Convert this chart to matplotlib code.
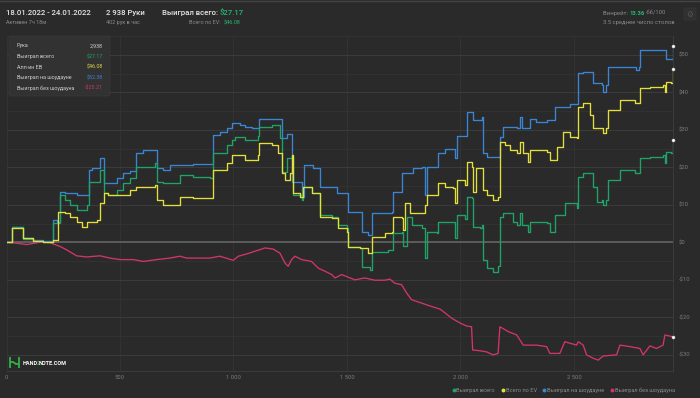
import matplotlib
matplotlib.use("Agg")
import matplotlib.pyplot as plt
from matplotlib.lines import Line2D
from matplotlib.patches import FancyBboxPatch
from matplotlib.ticker import FuncFormatter, MultipleLocator

plt.rcParams["font.family"] = ["Roboto", "DejaVu Sans"]

# --- data (hands played, cumulative $) ---
total_hands = 2938

showdown_x = [0, 23, 71, 118, 160, 203, 224, 236, 258, 309, 365, 375, 412, 430, 485, 515,
              544, 570, 600, 662, 691, 720, 823, 911, 940, 970, 992, 1029, 1051, 1080,
              1114, 1212, 1234, 1256, 1300, 1311, 1352, 1381, 1455, 1506, 1565, 1594,
              1609, 1697, 1704, 1741, 1792, 1829, 1844, 1851, 1902, 1932, 1976, 1983,
              2027, 2056, 2093, 2098, 2115, 2174, 2189, 2248, 2262, 2270, 2306, 2335,
              2380, 2416, 2482, 2519, 2541, 2585, 2622, 2629, 2640, 2651, 2769, 2775,
              2785, 2791, 2893, 2908, 2930, 2938]
showdown_y = [0, 4.2, 1.1, 0.6, 0.35, 5.9, 5.5, 13.5, 13.1, 12.6, 19.3, 19.7, 22.4, 15.7,
              17.1, 18.4, 19.1, 23.9, 24.6, 19.7, 19.3, 20.6, 21.0, 28.6, 29.5, 30.4,
              31.7, 31.3, 30.8, 30.4, 32.9, 27.7, 28.8, 16.2, 12.2, 20.6, 19.7, 14.8,
              13.1, 8.0, 2.8, 1.9, 7.7, 8.2, 13.5, 18.4, 19.7, 20.2, 12.6, 20.2, 23.7,
              25.0, 22.4, 28.3, 34.8, 32.6, 33.3, 23.7, 22.7, 28.2, 30.8, 30.4, 33.5,
              30.4, 32.8, 32.2, 32.6, 36.2, 36.8, 45.1, 45.3, 42.4, 41.9, 40.2, 42.0,
              46.8, 46.8, 45.9, 46.8, 51.3, 51.3, 48.8, 48.8, 52.38]

total_x = [0, 23, 71, 118, 160, 203, 236, 258, 280, 309, 353, 365, 412, 430, 449, 485,
           515, 544, 570, 654, 662, 691, 764, 823, 896, 911, 970, 992, 1007, 1051, 1109,
           1114, 1168, 1205, 1212, 1234, 1256, 1263, 1300, 1307, 1344, 1381, 1433, 1462,
           1499, 1506, 1557, 1565, 1601, 1609, 1682, 1704, 1741, 1748, 1763, 1785, 1829,
           1844, 1851, 1895, 1902, 1976, 1983, 2020, 2027, 2049, 2056, 2086, 2093, 2098,
           2115, 2144, 2166, 2174, 2189, 2233, 2248, 2262, 2270, 2299, 2306, 2380, 2394,
           2416, 2460, 2512, 2519, 2541, 2585, 2600, 2622, 2629, 2640, 2651, 2703, 2769,
           2791, 2835, 2893, 2901, 2908, 2930, 2938]
total_y = [0, 4.2, 0.8, 0.35, 0.2, 5.2, 12.6, 11.3, 9.9, 8.6, 9.9, 16.2, 19.3, 13.1, 12.6,
           13.9, 15.7, 17.1, 20.2, 21.1, 16.2, 15.7, 17.9, 17.5, 17.1, 23.7, 25.9, 27.3,
           28.2, 27.3, 28.3, 30.7, 31.3, 27.7, 18.8, 22.4, 23.0, 12.6, 11.3, 14.8, 13.1,
           7.3, 6.8, 4.6, 3.7, -1.2, -1.5, -6.5, -7.4, -2.5, -2.1, 2.6, 2.8, -1.1, 6.8,
           4.6, 3.7, -4.3, 2.8, 2.4, 5.5, 1.1, 7.3, 6.2, 12.2, 11.7, 4.2, 3.7, 4.6, -4.7,
           -6.9, -7.8, -6.4, 6.8, 7.7, 5.5, 4.6, 7.7, 4.6, 2.8, 5.5, 5.2, 2.8, 7.3, 10.4,
           9.1, 17.5, 18.4, 14.8, 10.8, 11.3, 9.9, 11.3, 16.6, 19.3, 18.4, 22.4, 22.8,
           23.3, 21.1, 24.2, 23.9, 27.17]

allin_ev_x = [0, 23, 71, 118, 160, 203, 228, 258, 280, 309, 331, 353, 400, 412, 430, 449,
              485, 544, 570, 654, 662, 691, 764, 823, 911, 970, 992, 1051, 1109, 1114,
              1168, 1197, 1212, 1227, 1249, 1256, 1263, 1293, 1307, 1344, 1381, 1433,
              1462, 1499, 1506, 1557, 1594, 1609, 1667, 1697, 1704, 1741, 1748, 1755,
              1778, 1844, 1851, 1902, 1932, 1968, 1976, 1983, 2020, 2027, 2049, 2056,
              2068, 2098, 2115, 2144, 2166, 2174, 2196, 2218, 2248, 2262, 2277, 2299,
              2306, 2380, 2394, 2424, 2453, 2482, 2512, 2519, 2541, 2570, 2585, 2622,
              2629, 2640, 2651, 2703, 2769, 2791, 2835, 2893, 2901, 2908, 2930, 2938]
allin_ev_y = [0, 3.9, 1.1, 0.35, 0.2, 0.6, 8.2, 7.7, 6.8, 5.5, 4.2, 5.5, 5.9, 10.4, 13.1,
              12.6, 12.6, 13.9, 14.8, 15.3, 11.3, 9.9, 12.2, 11.7, 19.3, 21.1, 23.3, 21.9,
              23.3, 26.4, 25.9, 23.7, 18.4, 16.6, 18.4, 23.3, 13.1, 12.2, 14.8, 13.1, 6.8,
              6.4, 3.7, 2.8, -1.2, -1.5, -2.9, 1.5, 2.4, 2.8, 6.8, 6.4, 3.3, 10.4, 7.7,
              9.9, 12.6, 15.7, 14.8, 14.4, 10.4, 16.6, 15.3, 21.5, 20.2, 13.5, 19.7, 13.9,
              12.6, 11.3, 12.2, 26.8, 25.9, 24.6, 23.7, 26.8, 23.7, 21.5, 24.6, 24.2, 21.9,
              25.5, 29.5, 28.2, 27.7, 36.2, 37.1, 33.9, 30.4, 30.4, 29.1, 30.4, 35.3, 37.9,
              37.1, 41.1, 41.5, 41.9, 40.2, 42.8, 42.6, 46.08]

no_showdown_x = [0, 41, 89, 126, 162, 191, 236, 265, 309, 353, 412, 456, 500, 559, 603,
                 662, 720, 764, 794, 852, 896, 940, 999, 1022, 1058, 1109, 1139, 1175,
                 1205, 1227, 1241, 1256, 1271, 1300, 1344, 1374, 1403, 1433, 1447, 1477,
                 1506, 1535, 1579, 1623, 1667, 1689, 1711, 1741, 1763, 1785, 1829, 1873,
                 1910, 1932, 1961, 1998, 2027, 2049, 2054, 2086, 2115, 2144, 2166, 2174,
                 2211, 2248, 2277, 2335, 2380, 2394, 2438, 2460, 2512, 2519, 2541, 2556,
                 2585, 2607, 2629, 2688, 2703, 2747, 2791, 2805, 2835, 2864, 2893, 2901,
                 2938]
no_showdown_y = [0, -0.2, -0.6, -0.2, 0.2, -0.1, -1.1, -2.0, -3.6, -3.9, -3.6, -4.2, -4.6,
                 -4.6, -5.1, -4.6, -4.2, -3.7, -4.2, -4.2, -4.2, -3.7, -4.8, -3.7, -3.1,
                 -2.1, -1.5, -1.8, -2.9, -5.5, -6.4, -4.6, -3.7, -4.6, -5.1, -6.9, -7.7,
                 -8.6, -9.5, -8.6, -9.3, -10.0, -9.5, -10.1, -10.1, -9.8, -10.9, -11.3,
                 -13.5, -15.3, -16.2, -17.1, -17.8, -18.8, -20.2, -21.5, -22.3, -22.5,
                 -28.7, -28.9, -29.2, -30.0, -29.6, -22.5, -23.8, -24.7, -27.4, -27.4,
                 -27.8, -29.6, -29.6, -26.5, -27.4, -26.5, -27.4, -30.0, -30.9, -31.4,
                 -30.3, -30.0, -27.4, -27.8, -28.3, -30.0, -27.6, -28.3, -27.4, -24.7,
                 -25.21]

series_labels = ["Выиграл всего", "Всего по EV", "Выиграл на шоудауне", "Выиграл без шоудауна"]
tooltip_labels = ["Рука", "Выиграл всего", "Алл-ин EB", "Выиграл на шоудауне", "Выиграл без шоудауна"]
tooltip_values = ["2,938", "$27.17", "$46.08", "$52.38", "-$25.21"]

# --- style ---
BG = "#2a2a2a"
GREEN = "#1fa468"
YELLOW = "#e4df3a"
BLUE = "#3a86d4"
RED = "#d3356a"
TXT = "#e6e6e6"
MUTED = "#8a8a8a"
TICK = "#7a7a7a"
VAL_GREEN = "#22b872"

W, H = 700, 398
fig = plt.figure(figsize=(7, 3.98), dpi=100, facecolor=BG)
renderer = fig.canvas.get_renderer()


def fx(px):
    return px / W


def fy(py):
    return 1 - py / H


def text_run(x, y, pieces, size, gap=0.0, **kw):
    """Draw consecutive text pieces (text, colour, weight) starting at pixel x."""
    for s, c, wgt in pieces:
        t = fig.text(fx(x), fy(y), s, color=c, fontsize=size, weight=wgt, va="center", **kw)
        x += t.get_window_extent(renderer).width + gap
    return x


ax = fig.add_axes([fx(6.5), fy(371), (673.3 - 6.5) / W, (371 - 36) / H])
ax.set_facecolor(BG)
ax.set_xlim(0, total_hands)
ax.set_ylim(-34.3, 55)

ax.yaxis.set_major_locator(MultipleLocator(10))
ax.yaxis.set_minor_locator(MultipleLocator(5))
ax.xaxis.set_major_locator(MultipleLocator(500))
ax.grid(which="major", axis="y", color="#3b3b3b", lw=0.8)
ax.grid(which="minor", axis="y", color="#323232", lw=0.7)
ax.grid(which="major", axis="x", color="#333333", lw=0.7)
ax.set_axisbelow(True)
ax.axhline(0, color="#5c5c5c", lw=1.4, zorder=1)

for s in ["top", "left"]:
    ax.spines[s].set_visible(False)
for s in ["bottom", "right"]:
    ax.spines[s].set_color("#3a3a3a")
    ax.spines[s].set_linewidth(0.8)

ax.yaxis.tick_right()
ax.tick_params(axis="both", which="both", length=0, colors=TICK, labelsize=4.2)
ax.tick_params(axis="y", pad=4)
ax.tick_params(axis="x", pad=3)
ax.yaxis.set_major_formatter(FuncFormatter(lambda v, p: f"${v:.0f}" if v >= 0 else f"-${-v:.0f}"))
ax.xaxis.set_major_formatter(FuncFormatter(lambda v, p: f"{int(v):,}".replace(",", " ")))

# --- lines ---
ax.plot(no_showdown_x, no_showdown_y, color=RED, lw=0.95, zorder=3)
ax.step(showdown_x, showdown_y, where="post", color=BLUE, lw=0.95, zorder=3)
ax.step(total_x, total_y, where="post", color=GREEN, lw=0.95, zorder=4)
ax.step(allin_ev_x, allin_ev_y, where="post", color=YELLOW, lw=0.95, zorder=5)

ends = [showdown_y[-1], total_y[-1], allin_ev_y[-1], no_showdown_y[-1]]
ax.scatter([total_hands] * 4, ends, s=5, color="white", edgecolors="#bbbbbb",
           linewidths=0.3, zorder=6, clip_on=False)

# --- legend at bottom ---
handles = [Line2D([], [], ls="none", marker="o", ms=1.8, color=c) for c in (GREEN, YELLOW, BLUE, RED)]
leg = fig.legend(handles, series_labels, loc="center right", bbox_to_anchor=(fx(675), fy(390)),
                 ncol=4, frameon=False, fontsize=4.1, handlelength=0.5, handletextpad=0.25,
                 columnspacing=1.1, borderaxespad=0, borderpad=0)
for t in leg.get_texts():
    t.set_color(MUTED)

# --- tooltip box ---
box = FancyBboxPatch((fx(9), fy(96)), 101 / W, 60 / H, transform=fig.transFigure,
                     boxstyle="round,pad=0,rounding_size=0.004", facecolor="#323232",
                     edgecolor="#3a3a3a", lw=0.5, zorder=10)
fig.add_artist(box)
rows_y = [45.7, 56.7, 67.2, 77.7, 88.0]
value_colors = ["#cfcfcf", GREEN, "#d9d340", "#3b82c8", "#c83a62"]
for lab, val, c, yy in zip(tooltip_labels, tooltip_values, value_colors, rows_y):
    fig.text(fx(16.7), fy(yy), lab, color="#cfcfcf", fontsize=3.9, va="center", zorder=11)
    fig.text(fx(102.7), fy(yy), val, color=c, fontsize=3.9, va="center", ha="right", zorder=11)

# --- header ---
fig.add_artist(Line2D([0, 1], [fy(0.5), fy(0.5)], transform=fig.transFigure, color="#444444", lw=1))
fig.text(fx(6), fy(13.3), "18.01.2022 - 24.01.2022", color=TXT, fontsize=5.6, va="center", weight="medium")
fig.text(fx(6), fy(22.7), "Активен 7ч 18м", color=MUTED, fontsize=4.0, va="center")
fig.text(fx(106), fy(13.3), "2 938 Руки", color=TXT, fontsize=5.6, va="center", weight="medium")
fig.text(fx(106), fy(22.7), "402 рук в час", color=MUTED, fontsize=4.0, va="center")
text_run(162, 13.3, [("Выиграл всего: ", TXT, "medium"), ("$27.17", VAL_GREEN, "medium")], 5.6)
fig.text(fx(240.5), fy(22.7), "$46.08", color=VAL_GREEN, fontsize=4.0, va="center", ha="right")
fig.text(fx(222), fy(22.7), "Всего по EV: ", color=MUTED, fontsize=4.0, va="center", ha="right")
text_run(603, 13.3, [("Винрейт: ", MUTED, "normal"), ("13.36", VAL_GREEN, "bold"),
                     (" бб/100", MUTED, "normal")], 4.2)
fig.text(fx(603), fy(22.7), "3.5 среднее число столов", color=MUTED, fontsize=4.2, va="center")

gear = FancyBboxPatch((fx(684), fy(20)), 12 / W, 12 / H, transform=fig.transFigure,
                      boxstyle="round,pad=0,rounding_size=0.003", facecolor="#303030",
                      edgecolor="#383838", lw=0.5)
fig.add_artist(gear)
fig.text(fx(690), fy(14), "\u2699", color="#555555", fontsize=5.5, ha="center", va="center",
         family="DejaVu Sans")

# --- logo ---
for xs, ys in (([10, 10], [357, 368]), ([19, 19], [357, 368]), ([10, 13, 16, 19], [362, 362, 364, 364])):
    fig.add_artist(Line2D([fx(x) for x in xs], [fy(y) for y in ys], transform=fig.transFigure,
                          color="#2fb24a", lw=1.3, solid_capstyle="butt"))
text_run(23, 363.5, [("HAND", "white", "bold"), ("2", "#2fb24a", "bold"), ("NOTE.COM", "white", "bold")],
         4.0, gap=-1.2)

fig.savefig("out.png", dpi=100, facecolor=BG)
